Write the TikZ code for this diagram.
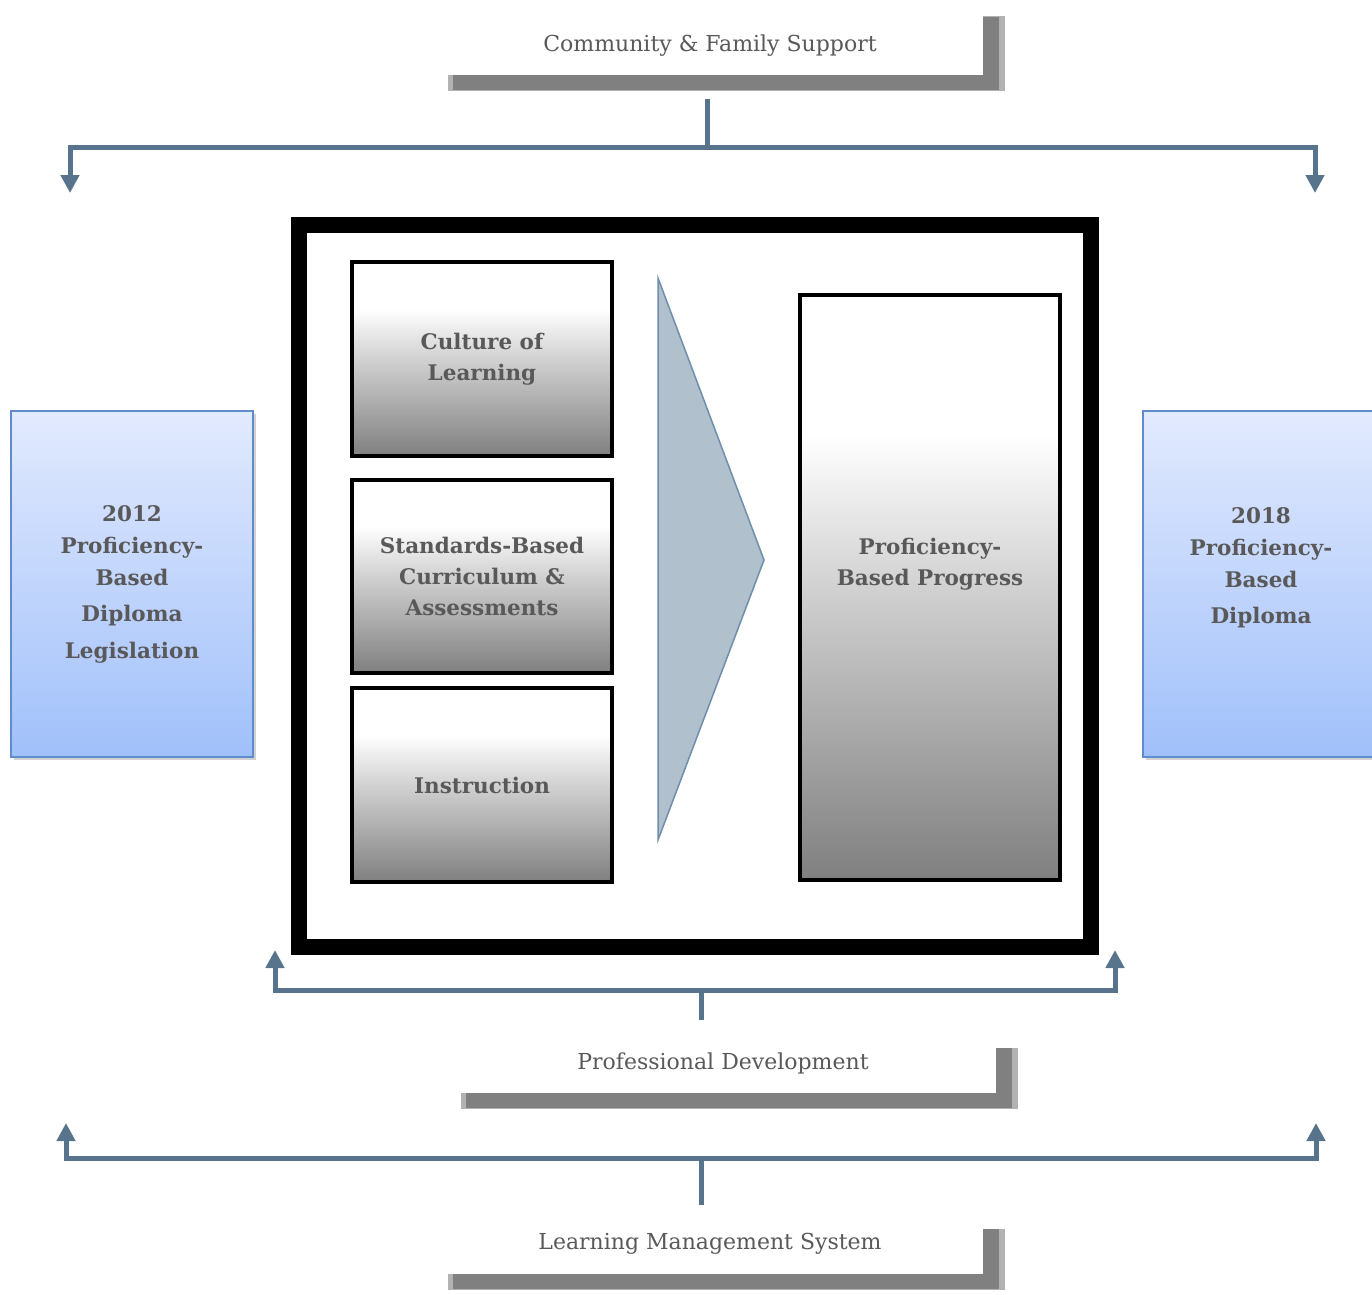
\documentclass[tikz,border=0pt]{standalone}
\usepackage{fontspec}
\setmainfont{DejaVu Serif}
\usepackage{tikz}
\usetikzlibrary{arrows.meta,positioning,shadows,calc}
\definecolor{connblue}{RGB}{88,115,140}
\definecolor{txtgray}{RGB}{89,89,89}
\definecolor{legtop}{RGB}{226,234,254}
\definecolor{legbot}{RGB}{160,192,250}
\definecolor{legedge}{RGB}{96,140,204}
\definecolor{arrowfill}{RGB}{176,192,204}
\definecolor{arrowedge}{RGB}{112,142,172}
\pgfdeclareverticalshading{greyfade}{100bp}{color(0bp)=(black!50); color(25bp)=(black!50);
  color(50bp)=(black!18); color(63bp)=(white); color(100bp)=(white)}

\begin{document}
\begin{tikzpicture}[x=1pt, y=-1pt,
  conn/.style={draw=connblue, line width=5pt},
  tip/.style={-{Triangle[width=18pt,length=18pt]}},
  support/.style={fill=white, minimum width=546pt, minimum height=60pt,
    text=txtgray, font=\fontsize{22}{26}\selectfont,
    drop shadow={shadow xshift=16pt, shadow yshift=-15pt, shadow scale=1.02,
      fill=black!30, opacity=1},
    drop shadow={shadow xshift=16pt, shadow yshift=-15pt, fill=black!50, opacity=1}},
  legbox/.style={draw=legedge, line width=1.6pt, top color=legtop, bottom color=legbot,
    minimum width=242pt, minimum height=346pt, align=center, text=txtgray,
    font=\bfseries\fontsize{21.5}{32}\selectfont,
    drop shadow={shadow xshift=3pt, shadow yshift=-3pt, fill=black!18, opacity=1}},
  greybox/.style={draw=black, line width=4pt, shading=greyfade,
    minimum width=260pt, align=center, text=txtgray,
    font=\bfseries\fontsize{21.5}{31}\selectfont}]
\useasboundingbox (0,0) rectangle (1372,1294);

% ---- framing supports (top and bottom) ----
\node[support, minimum height=73pt] (cfs) at (710,38)
  {\raisebox{-13pt}[0pt][0pt]{Community \& Family Support}};
\node[support] (prd) at (723,1063) {Professional Development};
\node[support] (lms) at (710,1244) {Learning Management System};

% ---- diploma boxes left and right ----
\node[legbox] (leg) at (132,584)
  {2012\\Proficiency-\\Based\\[4pt]Diploma\\[5pt]Legislation};
\node[legbox, minimum width=236pt] (dip) at (1261,584)
  {2018\\Proficiency-\\Based\\[4pt]Diploma\\[5pt]\mbox{}};

% ---- central frame ----
\node[draw=black, line width=16pt, fill=white,
  minimum width=792pt, minimum height=722pt] (frame) at (695,586) {};

\node[greybox, minimum height=194pt] (cul) at (482,359) {Culture of\\Learning};
\node[greybox, minimum height=193pt] (sbc) at (482,576)
  {Standards-Based\\Curriculum \&\\Assessments};
\node[greybox, minimum height=194pt] (ins) at (482,785) {Instruction};

\filldraw[fill=arrowfill, draw=arrowedge, line width=1.5pt]
  (658,278) -- (764,560) -- (658,840) -- cycle;

\node[greybox, minimum height=585pt] (pbp) at (930,587) {};
\node[text=txtgray, align=center, font=\bfseries\fontsize{21.5}{31}\selectfont]
  (pbptxt) at ([yshift=23pt]pbp.center) {Proficiency-\\Based Progress};

% ---- connectors ----
\coordinate (topjoint) at (707,147);
\coordinate (topl) at (70,193);
\coordinate (topr) at (1315,193);
\draw[conn, shorten <=24pt] (cfs.south -| topjoint) -- (topjoint);
\draw[conn, tip] (topjoint) -| (topl);
\draw[conn, tip] (topjoint) -| (topr);

\coordinate (prdjoint) at (701,990);
\coordinate (prdl) at (275,950);
\coordinate (prdr) at (1115,950);
\draw[conn, shorten <=13pt] (prd.north -| prdjoint) -- (prdjoint);
\draw[conn, tip] (prdjoint) -| (prdl);
\draw[conn, tip] (prdjoint) -| (prdr);

\coordinate (lmsjoint) at (701,1158);
\coordinate (lmsl) at (66,1123);
\coordinate (lmsr) at (1316,1123);
\draw[conn, shorten <=9pt] (lms.north -| lmsjoint) -- (lmsjoint);
\draw[conn, tip] (lmsjoint) -| (lmsl);
\draw[conn, tip] (lmsjoint) -| (lmsr);
\end{tikzpicture}
\end{document}
